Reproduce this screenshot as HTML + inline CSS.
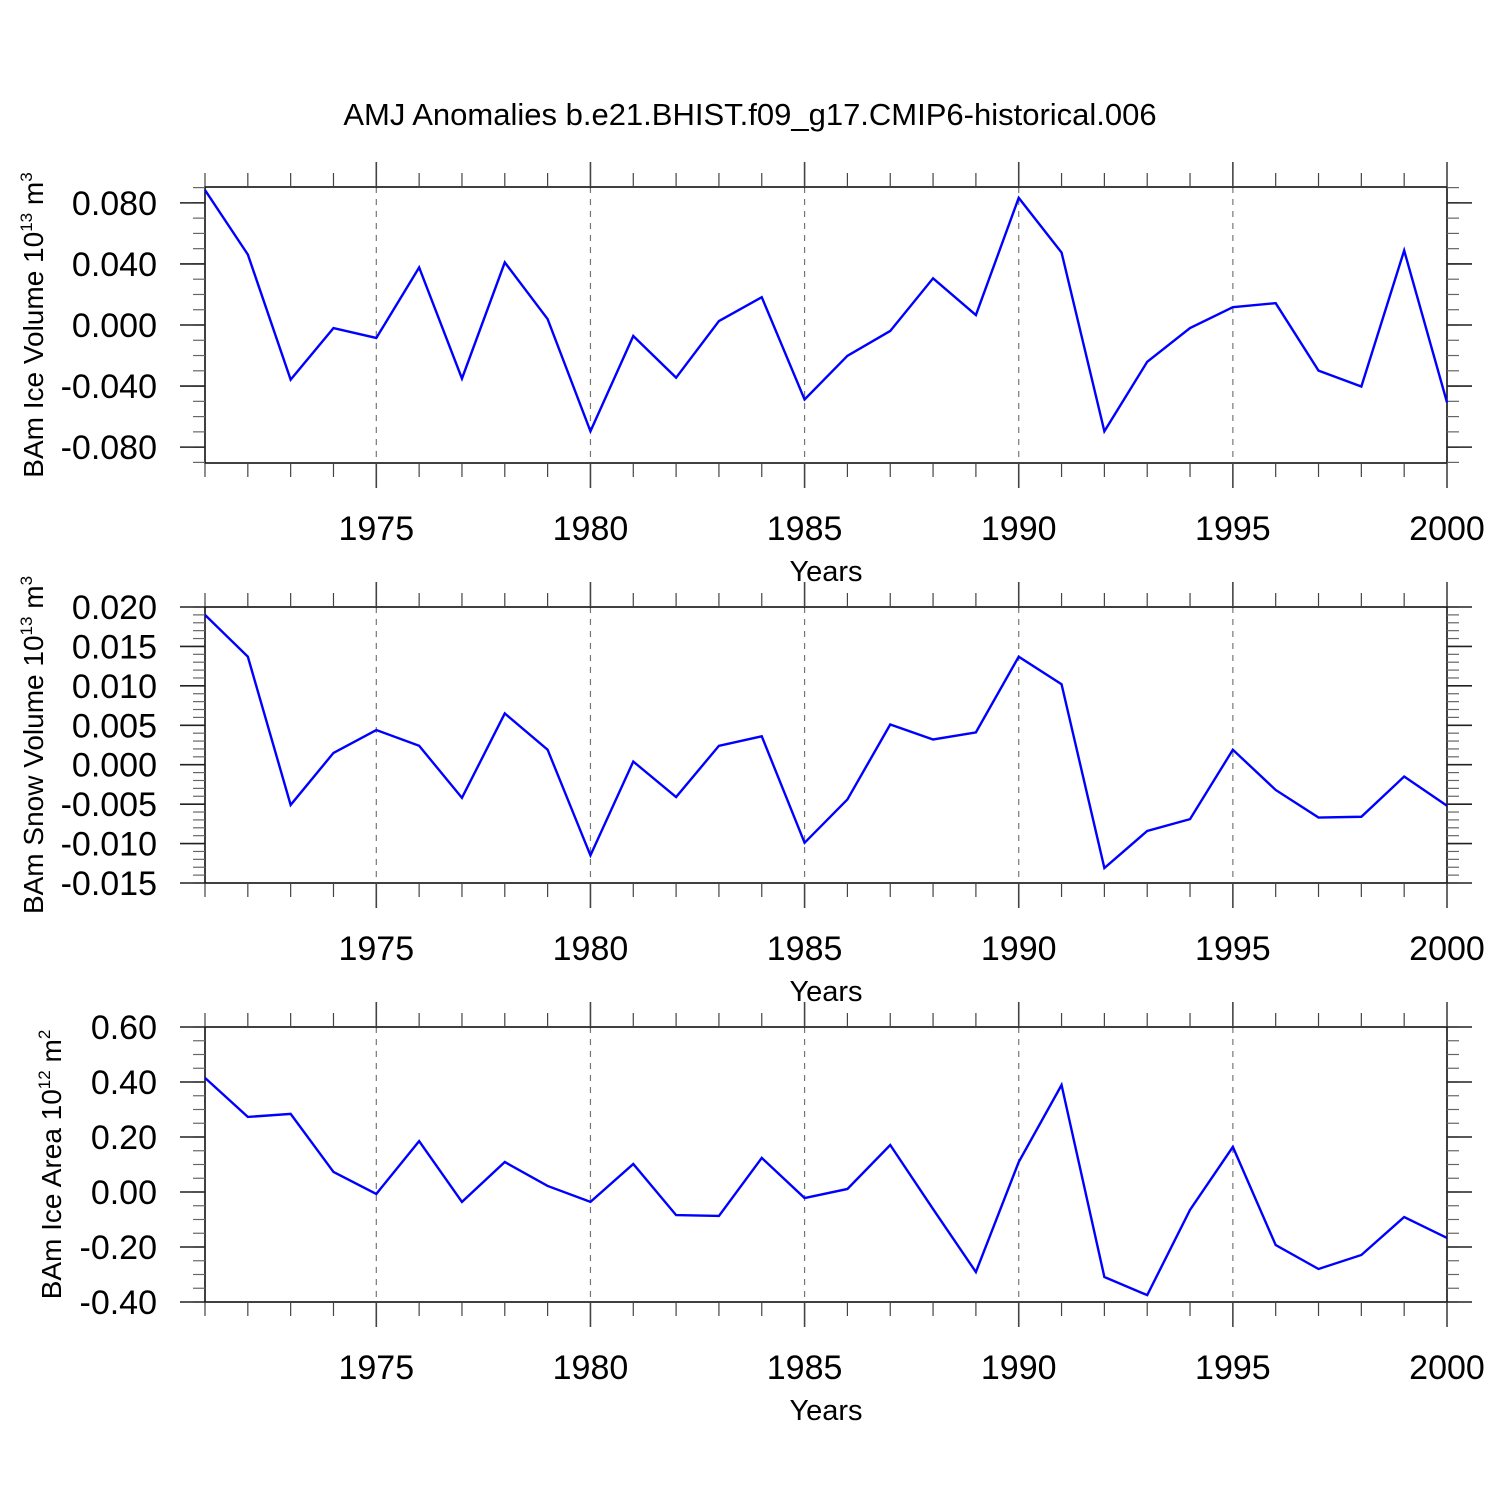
<!DOCTYPE html>
<html><head><meta charset="utf-8"><style>
html,body{margin:0;padding:0;background:#fff}
svg{display:block;font-family:"Liberation Sans",Arial,sans-serif}
</style></head><body>
<svg id="c" width="1500" height="1500" viewBox="0 0 1500 1500">
<text x="750" y="125" text-anchor="middle" font-size="31">AMJ Anomalies b.e21.BHIST.f09_g17.CMIP6-historical.006</text>
</svg>
<script>
const years = [1971,1972,1973,1974,1975,1976,1977,1978,1979,1980,1981,1982,1983,1984,1985,1986,1987,1988,1989,1990,1991,1992,1993,1994,1995,1996,1997,1998,1999,2000];
const iceVolume = [0.0884,0.0462,-0.0358,-0.002,-0.0085,0.0377,-0.0351,0.041,0.0039,-0.0696,-0.0072,-0.0345,0.0026,0.0182,-0.0488,-0.0202,-0.0039,0.0306,0.0065,0.0833,0.0475,-0.0696,-0.0241,-0.002,0.0117,0.0143,-0.0299,-0.0403,0.0488,-0.0507];
const snowVolume = [0.0190,0.0137,-0.0051,0.0015,0.0044,0.0024,-0.0042,0.0065,0.0019,-0.0115,0.0004,-0.0041,0.0024,0.0036,-0.0099,-0.0044,0.0051,0.0032,0.0041,0.0137,0.0102,-0.0131,-0.0084,-0.0069,0.0019,-0.0032,-0.0067,-0.0066,-0.0015,-0.0052];
const iceArea = [0.415,0.273,0.284,0.073,-0.007,0.185,-0.036,0.109,0.022,-0.036,0.102,-0.084,-0.087,0.124,-0.022,0.011,0.171,-0.062,-0.291,0.109,0.389,-0.309,-0.375,-0.065,0.164,-0.193,-0.28,-0.229,-0.091,-0.167];
const xTicks = [1975,1980,1985,1990,1995,2000];
const ticks1 = [0.08,0.04,0,-0.04,-0.08];
const tickLabels1 = ["0.080","0.040","0.000","-0.040","-0.080"];
const ticks2 = [0.02,0.015,0.01,0.005,0,-0.005,-0.01,-0.015];
const tickLabels2 = ["0.020","0.015","0.010","0.005","0.000","-0.005","-0.010","-0.015"];
const ticks3 = [0.6,0.4,0.2,0,-0.2,-0.4];
const tickLabels3 = ["0.60","0.40","0.20","0.00","-0.20","-0.40"];

const svg=document.getElementById('c');
const NS='http://www.w3.org/2000/svg';
function mk(tag,attrs,parent){const e=document.createElementNS(NS,tag);for(const k in attrs)e.setAttribute(k,attrs[k]);(parent||svg).appendChild(e);return e;}
const X0=205,X1=1447;
function xs(y){return X0+(y-1971)*(X1-X0)/29;}

function panel(name,top,bot,ymin,ymax,minorStep,data,ticks,labels,titleMain,expo,unit,titleX){
  const g=mk('g',{});
  
  
  const ys=v=>bot-(v-ymin)*(bot-top)/(ymax-ymin);
  xTicks.forEach(t=>{if(t<2000){const l=mk('line',{x1:xs(t),x2:xs(t),y1:top,y2:bot,stroke:'#777','stroke-width':1.2,'stroke-dasharray':'6,6'},g);
    
    }});
  mk('rect',{x:X0,y:top,width:X1-X0,height:bot-top,fill:'none',stroke:'#000','stroke-width':1.5},g);
  years.forEach(y=>{const maj=xTicks.includes(y);const L=maj?25:14;const x=xs(y);
    mk('line',{x1:x,x2:x,y1:top-L,y2:top,stroke:'#444','stroke-width':maj?1.6:1.2},g);
    mk('line',{x1:x,x2:x,y1:bot,y2:bot+L,stroke:'#444','stroke-width':maj?1.6:1.2},g);});
  xTicks.forEach(t=>{const tx=mk('text',{x:xs(t),y:bot+77,'text-anchor':'middle','font-size':34},g);tx.textContent=t;
    
    });
  const xt=mk('text',{x:826,y:bot+118,'text-anchor':'middle','font-size':29},g);xt.textContent='Years';
  
  
  const start=Math.ceil(ymin/minorStep-1e-6);
  for(let i=start;i*minorStep<=ymax+1e-9;i++){const v=i*minorStep;const y=ys(v);
    mk('line',{x1:X0-12,x2:X0,y1:y,y2:y,stroke:'#666','stroke-width':1.2},g);
    mk('line',{x1:X1,x2:X1+12,y1:y,y2:y,stroke:'#666','stroke-width':1.2},g);}
  ticks.forEach((v,i)=>{const y=ys(v);
    mk('line',{x1:X0-25,x2:X0,y1:y,y2:y,stroke:'#222','stroke-width':1.6},g);
    mk('line',{x1:X1,x2:X1+25,y1:y,y2:y,stroke:'#222','stroke-width':1.6},g);
    const t=mk('text',{x:157,y:y+12,'text-anchor':'end','font-size':34},g);t.textContent=labels[i];
    
    });
  const pts=data.map((v,i)=>xs(years[i])+','+ys(v)).join(' ');
  const pl=mk('polyline',{points:pts,fill:'none',stroke:'#0000ff','stroke-width':2.4,'stroke-linejoin':'miter'},g);
  
  
  const cy=(top+bot)/2;
  const yt=mk('text',{x:titleX,y:cy,'text-anchor':'middle','font-size':28,transform:'rotate(-90 '+titleX+' '+cy+')'},g);
  
  
  const a=mk('tspan',{},yt);a.textContent=titleMain+' 10';
  const b=mk('tspan',{'font-size':17,dy:-11},yt);b.textContent=expo;
  const c=mk('tspan',{dy:11},yt);c.textContent=' '+unit;
  const d=mk('tspan',{'font-size':17,dy:-11},yt);d.textContent=expo==='12'?'2':'3';
}
panel('ice-volume-panel',187,463,-0.0904,0.0904,0.01,iceVolume,ticks1,tickLabels1,'BAm Ice Volume','13','m',43);
panel('snow-volume-panel',607,883,-0.015,0.020,0.001,snowVolume,ticks2,tickLabels2,'BAm Snow Volume','13','m',43);
panel('ice-area-panel',1027,1302,-0.40,0.60,0.05,iceArea,ticks3,tickLabels3,'BAm Ice Area','12','m',61);
</script>
</body></html>
